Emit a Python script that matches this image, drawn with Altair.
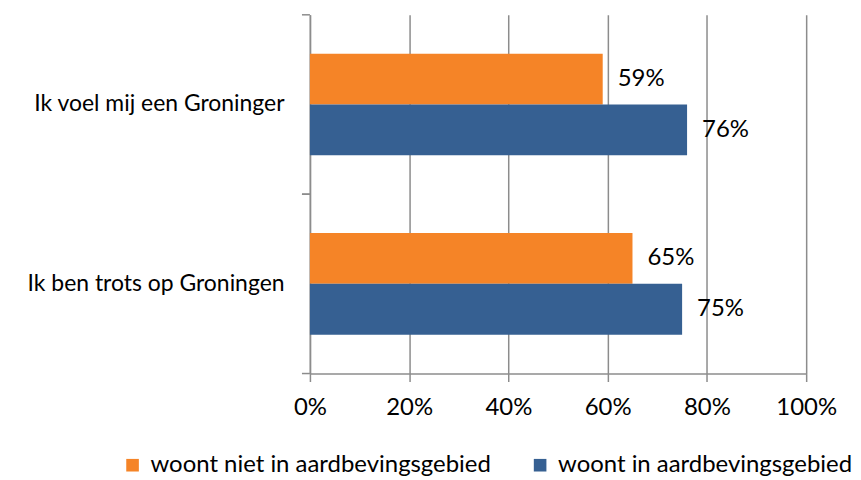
import altair as alt
import pandas as pd

categories = ["Ik voel mij een Groninger", "Ik ben trots op Groningen"]
series = ["woont niet in aardbevingsgebied", "woont in aardbevingsgebied"]
niet_values = [59, 65]
wel_values = [76, 75]
x_ticks = [0, 0.2, 0.4, 0.6, 0.8, 1.0]

colors = ["#F58427", "#366092"]
grey = "#8C8C8C"
FONT = "Lato"

rows = []
for i, c in enumerate(categories):
    rows.append({"cat": c, "series": series[0], "value": niet_values[i] / 100})
    rows.append({"cat": c, "series": series[1], "value": wel_values[i] / 100})
df = pd.DataFrame(rows)
tick_df = pd.DataFrame({"cat": categories})

y_enc = dict(sort=categories, scale=alt.Scale(paddingInner=0, paddingOuter=0))

bars = alt.Chart(df).mark_bar().encode(
    x=alt.X(
        "value:Q",
        scale=alt.Scale(domain=[0, 1], nice=False),
        axis=alt.Axis(
            title=None, format="%", values=x_ticks, grid=True, gridColor=grey,
            gridWidth=1.5, domainColor=grey, domainWidth=1.5, tickColor=grey,
            tickWidth=1.5, tickSize=8, labelFontSize=24, labelFont=FONT,
            labelColor="black", labelPadding=14, labelFlush=False, labelOverlap=False,
        ),
    ),
    y=alt.Y(
        "cat:N",
        axis=alt.Axis(
            title=None, ticks=False, domain=True, domainColor=grey, domainWidth=1.5,
            labelFontSize=23, labelFont=FONT, labelColor="black", labelPadding=26,
            labelLimit=400,
        ),
        **y_enc,
    ),
    yOffset=alt.YOffset(
        "series:N", sort=series, scale=alt.Scale(paddingOuter=0.765, paddingInner=0)
    ),
    color=alt.Color(
        "series:N",
        sort=series,
        scale=alt.Scale(domain=series, range=colors),
        legend=alt.Legend(
            title=None, orient="none", direction="horizontal", legendX=-190,
            legendY=440, symbolType="square", symbolSize=160, symbolStrokeWidth=0,
            labelFontSize=24, labelFont=FONT, labelColor="black", labelOffset=6,
            columnPadding=37, labelLimit=600,
        ),
    ),
)

labels = bars.mark_text(align="left", baseline="middle", dx=15, fontSize=24, font=FONT).encode(
    text=alt.Text("value:Q", format=".0%"),
    color=alt.value("black"),
)

tick_top = alt.Chart(tick_df).mark_rule(color=grey, strokeWidth=1.5).encode(
    y=alt.Y("cat:N", bandPosition=0, **y_enc),
    x=alt.value(-8),
    x2=alt.value(0),
)
tick_bottom = alt.Chart(tick_df).mark_rule(color=grey, strokeWidth=1.5).encode(
    y=alt.Y("cat:N", bandPosition=1, **y_enc),
    x=alt.value(-8),
    x2=alt.value(0),
)

chart = (
    alt.layer(bars, labels, tick_top, tick_bottom)
    .properties(width=498, height=360, padding={"left": 19, "top": 5, "right": 0, "bottom": 0})
    .configure_view(stroke=None)
)

chart.save("out.html", embed_options={"renderer": "svg", "actions": False})
